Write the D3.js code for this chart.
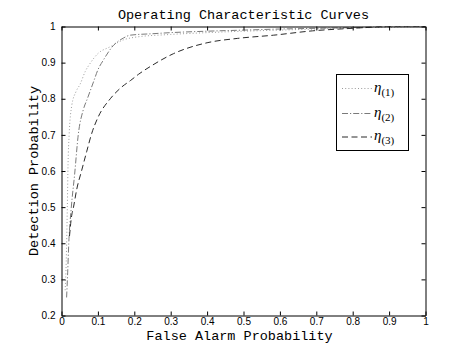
<!DOCTYPE html>
<html><head><meta charset="utf-8">
<script src="https://cdn.jsdelivr.net/npm/d3@7"></script>
<style>body{margin:0;background:#fff}</style>
</head><body>
<svg id="c" width="471" height="354"></svg>
<script>
const xTicks = [0,0.1,0.2,0.3,0.4,0.5,0.6,0.7,0.8,0.9,1];
const yTicks = [0.2,0.3,0.4,0.5,0.6,0.7,0.8,0.9,1];
const seriesNames = ["(1)","(2)","(3)"];
const fa1 = [0.010,0.013,0.016,0.018,0.021,0.028,0.040,0.051,0.065,0.080,0.100,0.134,0.170,0.200,0.300,0.400,0.500,0.600,0.700,0.800,0.900,1.000];
const pd1 = [0.270,0.350,0.500,0.620,0.700,0.780,0.820,0.840,0.875,0.900,0.925,0.944,0.963,0.970,0.978,0.983,0.987,0.990,0.993,0.996,0.998,1.000];
const fa2 = [0.014,0.017,0.020,0.027,0.036,0.046,0.060,0.071,0.088,0.100,0.115,0.143,0.170,0.189,0.250,0.300,0.400,0.500,0.600,0.700,0.800,0.900,1.000];
const pd2 = [0.250,0.320,0.400,0.500,0.590,0.700,0.770,0.800,0.847,0.880,0.907,0.948,0.968,0.976,0.980,0.983,0.987,0.990,0.993,0.995,0.997,1.000,1.000];
const fa3 = [0.022,0.027,0.033,0.042,0.055,0.069,0.083,0.101,0.134,0.166,0.189,0.212,0.250,0.308,0.400,0.483,0.583,0.690,0.800,0.900,1.000];
const pd3 = [0.420,0.470,0.500,0.550,0.600,0.653,0.704,0.750,0.800,0.833,0.850,0.868,0.893,0.925,0.955,0.967,0.976,0.988,0.995,1.000,1.000];

const svg = d3.select("#c");
const L=61.5, R=425.5, T=26.5, B=315.5;
const x = d3.scaleLinear().domain([0,1]).range([L,R]);
const y = d3.scaleLinear().domain([0.2,1]).range([B,T]);

svg.append("defs").append("clipPath").attr("id","clip")
  .append("rect").attr("x",L).attr("y",T).attr("width",R-L).attr("height",B-T);

const styles = [
  {color:"#9a9a9a", dash:"1,2.2", w:1},
  {color:"#7a7a7a", dash:"6,2,1.2,2", w:1},
  {color:"#2a2a2a", dash:"6,3.5", w:1}
];
const series = [[fa1,pd1],[fa2,pd2],[fa3,pd3]];
const line = d3.line().x(d=>x(d[0])).y(d=>y(d[1])).curve(d3.curveMonotoneX);
series.forEach((s,i)=>{
  const pts = s[0].map((v,j)=>[v,s[1][j]]);
  svg.append("path").attr("d",line(pts)).attr("fill","none")
    .attr("stroke",styles[i].color).attr("stroke-width",styles[i].w)
    .attr("stroke-dasharray",styles[i].dash).attr("clip-path","url(#clip)");
});

const tickFont = "Liberation Sans, Arial, sans-serif";
const axB = d3.axisBottom(x).tickValues(xTicks).tickFormat(d3.format("")).tickSizeInner(-4).tickSizeOuter(0).tickPadding(2);
const axT = d3.axisTop(x).tickValues(xTicks).tickFormat("").tickSizeInner(-4).tickSizeOuter(0);
const axL = d3.axisLeft(y).tickValues(yTicks).tickFormat(d3.format("")).tickSizeInner(-4).tickSizeOuter(0).tickPadding(6);
const axR = d3.axisRight(y).tickValues(yTicks).tickFormat("").tickSizeInner(-4).tickSizeOuter(0);
function styleAx(g){
  g.selectAll("path.domain").attr("stroke","#000").attr("stroke-width",1);
  g.selectAll(".tick line").attr("stroke","#000");
  g.selectAll(".tick text").attr("font-family",tickFont).attr("font-size","10px").attr("fill","#000");
}
svg.append("g").attr("transform",`translate(0,${B})`).call(axB).call(styleAx);
svg.append("g").attr("transform",`translate(0,${T})`).call(axT).call(styleAx);
svg.append("g").attr("transform",`translate(${L},0)`).call(axL).call(styleAx);
svg.append("g").attr("transform",`translate(${R},0)`).call(axR).call(styleAx);

const mono = "Liberation Mono, Courier New, monospace";
svg.append("text").attr("x",(L+R)/2).attr("y",19).attr("text-anchor","middle")
  .attr("font-family",mono).attr("font-size","13.5px").text("Operating Characteristic Curves");
svg.append("text").attr("x",(L+R)/2 - 4).attr("y",340).attr("text-anchor","middle")
  .attr("font-family",mono).attr("font-size","13.5px").text("False Alarm Probability");
svg.append("text").attr("transform",`translate(38,${(T+B)/2}) rotate(-90)`).attr("text-anchor","middle")
  .attr("font-family",mono).attr("font-size","13.5px").text("Detection Probability");

// legend
const lg = svg.append("g");
lg.append("rect").attr("x",336.5).attr("y",74.5).attr("width",72).attr("height",76)
  .attr("fill","#fff").attr("stroke","#000").attr("stroke-width",1);
const ly = [88.5,113.5,137];
seriesNames.forEach((n,i)=>{
  lg.append("line").attr("x1",342).attr("x2",372).attr("y1",ly[i]).attr("y2",ly[i])
    .attr("stroke",styles[i].color).attr("stroke-dasharray",styles[i].dash);
  const t = lg.append("text").attr("x",374).attr("y",ly[i]+3)
    .attr("font-family","Liberation Serif, Times New Roman, serif").attr("font-size","15px");
  t.append("tspan").attr("font-style","italic").text("η");
  t.append("tspan").attr("dy",4).attr("font-size","11px").text(n);
});
</script>
</body></html>
